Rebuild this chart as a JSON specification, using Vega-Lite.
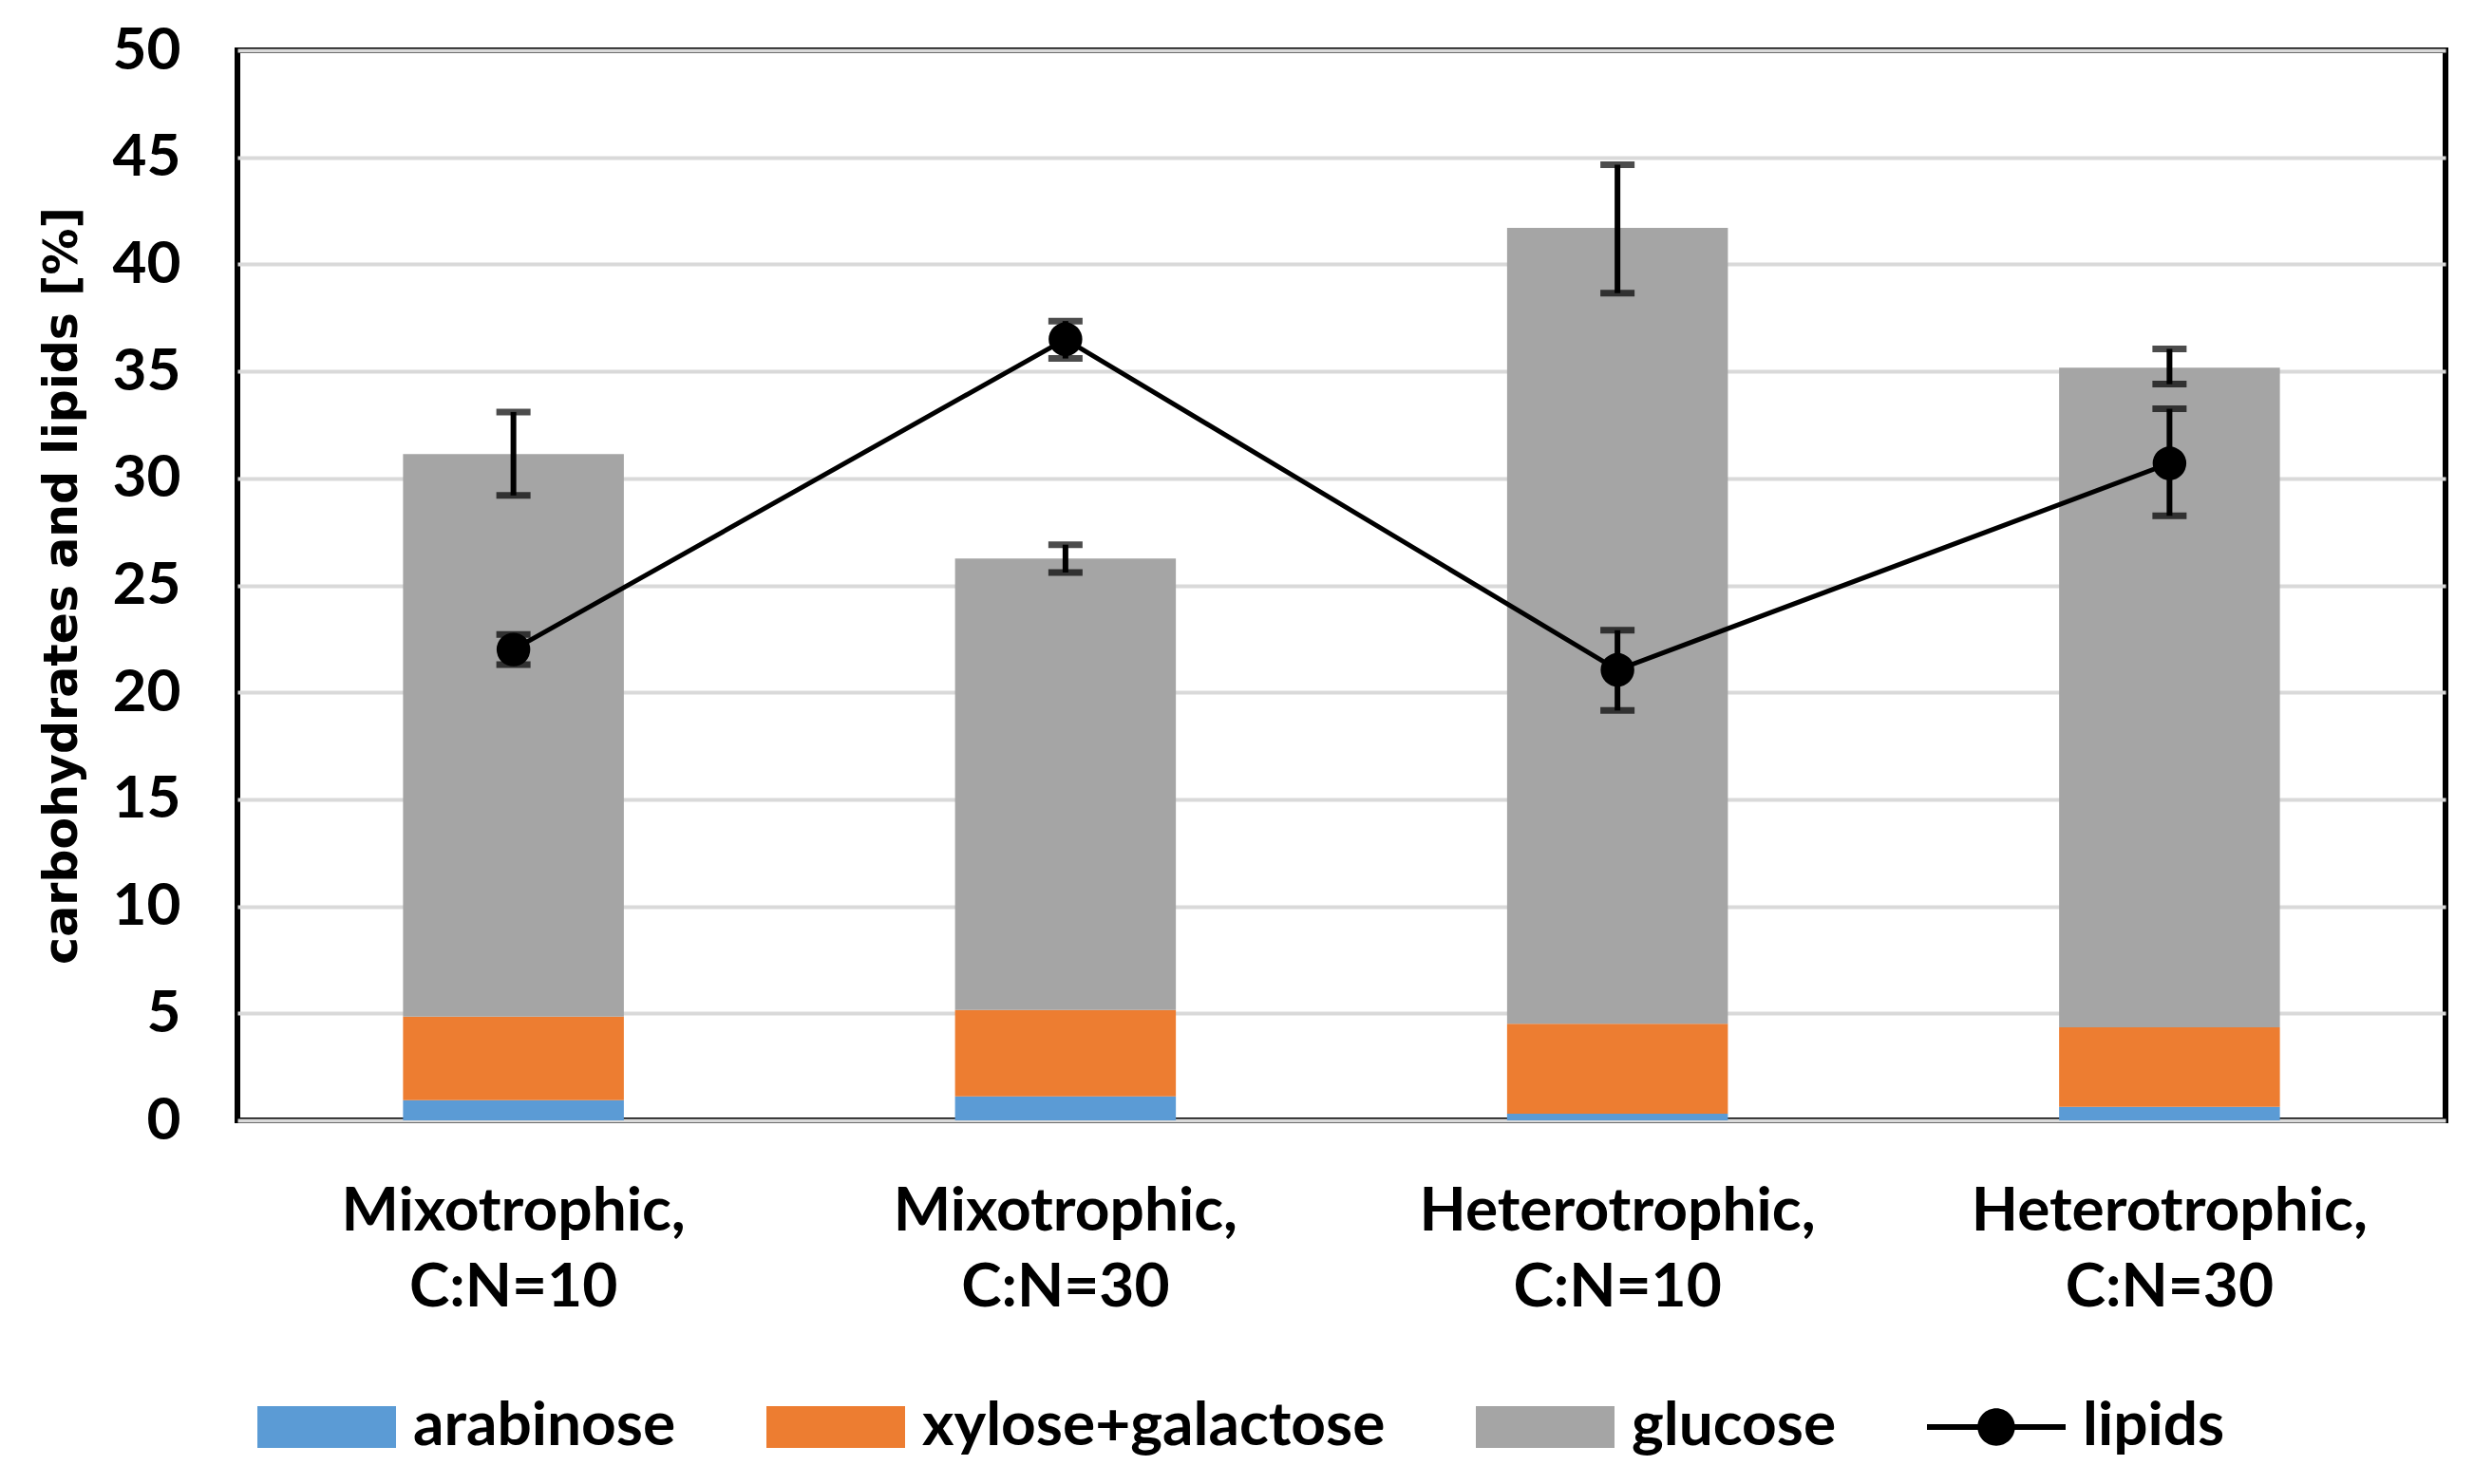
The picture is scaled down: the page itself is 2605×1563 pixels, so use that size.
{
  "$schema": "https://vega.github.io/schema/vega-lite/v6.json",
  "width": 2325,
  "height": 1127,
  "autosize": {"type": "none"},
  "padding": {"left": 250, "top": 53, "right": 30, "bottom": 383},
  "background": "white",
  "config": {
    "view": {"stroke": "black", "strokeWidth": 6},
    "axis": {"labelFont": "Lato", "labelFontWeight": "bold", "labelColor": "black", "titleColor": "black"}
  },
  "datasets": {
    "carbs": [
      {"condition": "Mixotrophic, C:N=10", "component": "arabinose", "value": 0.94},
      {"condition": "Mixotrophic, C:N=10", "component": "xylose+galactose", "value": 3.91},
      {"condition": "Mixotrophic, C:N=10", "component": "glucose", "value": 26.28},
      {"condition": "Mixotrophic, C:N=30", "component": "arabinose", "value": 1.12},
      {"condition": "Mixotrophic, C:N=30", "component": "xylose+galactose", "value": 4.04},
      {"condition": "Mixotrophic, C:N=30", "component": "glucose", "value": 21.09},
      {"condition": "Heterotrophic, C:N=10", "component": "arabinose", "value": 0.31},
      {"condition": "Heterotrophic, C:N=10", "component": "xylose+galactose", "value": 4.2},
      {"condition": "Heterotrophic, C:N=10", "component": "glucose", "value": 37.19},
      {"condition": "Heterotrophic, C:N=30", "component": "arabinose", "value": 0.63},
      {"condition": "Heterotrophic, C:N=30", "component": "xylose+galactose", "value": 3.72},
      {"condition": "Heterotrophic, C:N=30", "component": "glucose", "value": 30.82}
    ],
    "summary": [
      {"condition": "Mixotrophic, C:N=10", "carb_lo": 29.2, "carb_hi": 33.1, "lipid": 22.0, "lipid_lo": 21.3, "lipid_hi": 22.7},
      {"condition": "Mixotrophic, C:N=30", "carb_lo": 25.6, "carb_hi": 26.9, "lipid": 36.5, "lipid_lo": 35.6, "lipid_hi": 37.35},
      {"condition": "Heterotrophic, C:N=10", "carb_lo": 38.65, "carb_hi": 44.65, "lipid": 21.05, "lipid_lo": 19.15, "lipid_hi": 22.9},
      {"condition": "Heterotrophic, C:N=30", "carb_lo": 34.4, "carb_hi": 36.05, "lipid": 30.7, "lipid_lo": 28.25, "lipid_hi": 33.25}
    ]
  },
  "encoding": {
    "x": {
      "field": "condition",
      "type": "nominal",
      "sort": ["Mixotrophic, C:N=10", "Mixotrophic, C:N=30", "Heterotrophic, C:N=10", "Heterotrophic, C:N=30"],
      "scale": {"paddingInner": 0.6, "paddingOuter": 0.3},
      "axis": {
        "title": null,
        "labelAngle": 0,
        "domain": false,
        "ticks": false,
        "labelFontSize": 64,
        "labelLimit": 0,
        "labelPadding": 64,
        "labelLineHeight": 80,
        "labelBaseline": "top",
        "labelExpr": "[substring(datum.label, 0, indexof(datum.label, ',') + 1), substring(datum.label, indexof(datum.label, ',') + 2)]"
      }
    }
  },
  "layer": [
    {
      "data": {"name": "carbs"},
      "transform": [
        {"calculate": "indexof(['arabinose', 'xylose+galactose', 'glucose'], datum.component)", "as": "stack_order"}
      ],
      "mark": {"type": "bar"},
      "encoding": {
        "y": {
          "field": "value",
          "type": "quantitative",
          "stack": "zero",
          "scale": {"domain": [0, 50], "nice": false},
          "title": "carbohydrates and lipids [%]",
          "axis": {
            "values": [0, 5, 10, 15, 20, 25, 30, 35, 40, 45, 50],
            "domain": false,
            "ticks": false,
            "labelFontSize": 62,
            "labelPadding": 60,
            "gridColor": "#d9d9d9",
            "gridWidth": 4,
            "titleFont": "DejaVu Sans",
            "titleFontWeight": "bold",
            "titleFontSize": 49,
            "titlePadding": 28
          }
        },
        "order": {"field": "stack_order", "type": "quantitative", "sort": "ascending"},
        "color": {
          "field": "component",
          "type": "nominal",
          "scale": {
            "domain": ["arabinose", "xylose+galactose", "glucose", "lipids"],
            "range": ["#5b9bd5", "#ed7d31", "#a5a5a5", "#000000"]
          },
          "legend": {
            "title": null,
            "orient": "none",
            "direction": "horizontal",
            "legendX": 21,
            "legendY": 1377,
            "padding": 0,
            "labelFont": "Lato",
            "labelFontWeight": "bold",
            "labelFontSize": 64,
            "labelColor": "black",
            "labelLimit": 0,
            "labelOffset": 18,
            "columnPadding": 95,
            "symbolSize": 21316,
            "symbolStrokeWidth": 0,
            "encode": {
              "symbols": {
                "update": {
                  "shape": {"signal": "datum.value === 'lipids' ? 'M-1,-0.04H1V0.04H-1Z M0.27,0A0.27,0.27 0 1 1 -0.27,0A0.27,0.27 0 1 1 0.27,0Z' : 'M-1,-0.3H1V0.3H-1Z'"},
                  "opacity": {"value": 1}
                }
              }
            }
          }
        }
      }
    },
    {
      "data": {"name": "summary"},
      "mark": {"type": "errorbar", "ticks": {"size": 36, "thickness": 7, "color": "black"}, "rule": {"strokeWidth": 6, "color": "black"}},
      "encoding": {
        "y": {"field": "carb_lo", "type": "quantitative", "title": "carbohydrates and lipids [%]"},
        "y2": {"field": "carb_hi"}
      }
    },
    {
      "data": {"name": "summary"},
      "mark": {"type": "line", "color": "black", "strokeWidth": 5},
      "encoding": {
        "y": {"field": "lipid", "type": "quantitative", "title": "carbohydrates and lipids [%]"}
      }
    },
    {
      "data": {"name": "summary"},
      "mark": {"type": "point", "shape": "circle", "filled": true, "color": "black", "opacity": 1, "size": 1257},
      "encoding": {
        "y": {"field": "lipid", "type": "quantitative", "title": "carbohydrates and lipids [%]"}
      }
    },
    {
      "data": {"name": "summary"},
      "mark": {"type": "errorbar", "ticks": {"size": 36, "thickness": 7, "color": "black"}, "rule": {"strokeWidth": 6, "color": "black"}},
      "encoding": {
        "y": {"field": "lipid_lo", "type": "quantitative", "title": "carbohydrates and lipids [%]"},
        "y2": {"field": "lipid_hi"}
      }
    }
  ]
}
